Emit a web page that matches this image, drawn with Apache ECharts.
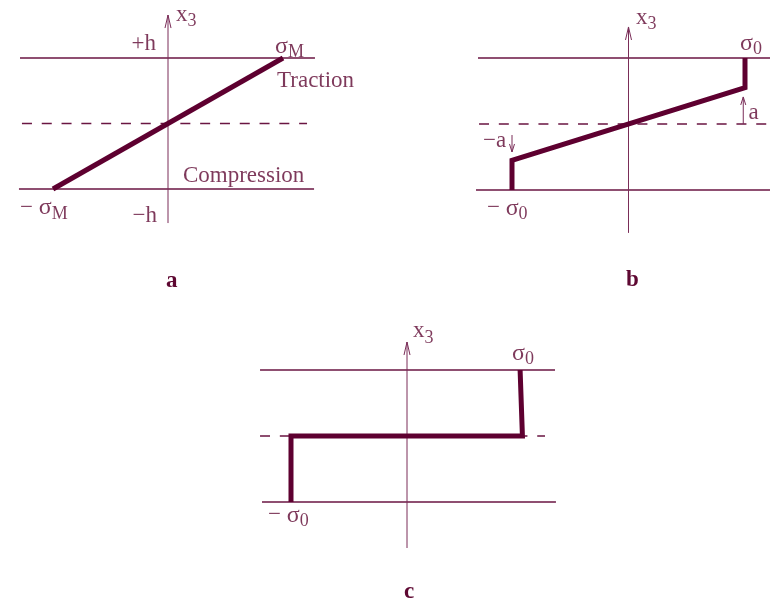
<!DOCTYPE html>
<html><head><meta charset="utf-8">
<script src="https://cdn.jsdelivr.net/npm/echarts@6/dist/echarts.min.js"></script>
<style>html,body{margin:0;padding:0;background:#fff}#c{width:770px;height:603px}</style>
</head><body><div id="c"></div>
<script>
// ---- data (dimensionless: x = sigma / sigma_max, y = x3 / h) ----
const profileA = [[-1, -1], [1, 1]];                       // linear: -σM .. σM
const profileB = [[-1, -1], [-1, -0.55], [1, 0.55], [1, 1]]; // elastic core ±a, plastic outer
const profileC = [[-1, -1], [-1, 0], [0.995, 0], [0.975, 1]]; // fully plastic
const levelTop = 1, levelMid = 0, levelBot = -1;             // +h, 0, -h
const extA = { top: [-1.287, 1.278], bot: [-1.296, 1.27], mid: [-1.27, 1.209], axis: [-1.52, 1.656] };
const extB = { top: [-1.292, 1.4], bot: [-1.309, 1.4], mid: [-1.283, 1.4], axis: [-1.65, 1.47] };
const extC = { top: [-1.267, 1.276], bot: [-1.25, 1.284], mid: [-1.267, 1.19], axis: [-1.697, 1.424] };
const arrowsB = [{ x: 0.985, from: 0, to: 0.41 }, { x: -1.0, from: -0.167, to: -0.424 }];
const labelsA = [
  { t: '{m|x}{s|3}', p: [0.07, 1.64], side: 'right' },
  { t: '{m|+h}', p: [-0.104, 1.2], side: 'left' },
  { t: '{g|σ}{s|M}', p: [0.93, 1.17], side: 'right' },
  { t: '{m|Traction}', p: [0.948, 0.64], side: 'right' },
  { t: '{m|Compression}', p: [0.13, -0.81], side: 'right' },
  { t: '{m|− }{g|σ}{s|M}', p: [-1.287, -1.3], side: 'right' },
  { t: '{m|−h}', p: [-0.096, -1.43], side: 'left' }
];
const labelsB = [
  { t: '{m|x}{s|3}', p: [0.064, 1.59], side: 'right' },
  { t: '{g|σ}{s|0}', p: [0.957, 1.21], side: 'right' },
  { t: '{m|− }{g|σ}{s|0}', p: [-1.215, -1.29], side: 'right' },
  { t: '{m|−a}', p: [-1.249, -0.27], side: 'right' },
  { t: '{m|a}', p: [1.03, 0.15], side: 'right' }
];
const labelsC = [
  { t: '{m|x}{s|3}', p: [0.052, 1.57], side: 'right' },
  { t: '{g|σ}{s|0}', p: [0.905, 1.24], side: 'right' },
  { t: '{m|− }{g|σ}{s|0}', p: [-1.198, -1.21], side: 'right' }
];
const panelNames = ['a', 'b', 'c'];

// ---- layout / style ----
const COL = { text: '#5e0832', thick: '#5e0030', thin: '#6a1542', axis: '#7a2d58' };
const FONT = 'Liberation Serif';
const panels = [
  { cx: 168, cy: 123.5, sx: 115, sy: 65.5, xr: [-1.4, 1.4], prof: profileA, ext: extA, labels: labelsA },
  { cx: 628.5, cy: 124, sx: 116.5, sy: 66, xr: [-1.4, 1.2], prof: profileB, ext: extB, labels: labelsB, arrows: arrowsB },
  { cx: 407, cy: 436, sx: 116, sy: 66, xr: [-1.4, 1.4], prof: profileC, ext: extC, labels: labelsC }
];
const YR = 1.8;
const rich = {
  m: { fontFamily: FONT, fontSize: 23, color: COL.text, verticalAlign: 'top', lineHeight: 25 },
  g: { fontFamily: FONT, fontSize: 24, color: COL.text, verticalAlign: 'top', lineHeight: 25 },
  s: { fontFamily: FONT, fontSize: 18, color: COL.text, verticalAlign: 'top', lineHeight: 20, padding: [9, 0, 0, 0] }
};

const grid = [], xAxis = [], yAxis = [], series = [];
function line(i, data, style, z) {
  series.push({ type: 'line', xAxisIndex: i, yAxisIndex: i, data, symbol: 'none', silent: true,
    clip: false, animation: false, z: z || 2, lineStyle: Object.assign({ cap: 'butt', join: 'miter' }, style) });
}
function chevron(i, p, x, tipY, dir, len, half) {
  const dx = half / p.sx, dy = len / p.sy * dir;
  line(i, [[x - dx, tipY - dy], [x, tipY], [x + dx, tipY - dy]], { color: COL.axis, width: 1 }, 3);
}
panels.forEach((p, i) => {
  grid.push({ left: p.cx + p.xr[0] * p.sx, top: p.cy - YR * p.sy, width: (p.xr[1] - p.xr[0]) * p.sx, height: 2 * YR * p.sy });
  xAxis.push({ type: 'value', gridIndex: i, min: p.xr[0], max: p.xr[1], show: false });
  yAxis.push({ type: 'value', gridIndex: i, min: -YR, max: YR, show: false });
  const e = p.ext;
  line(i, [[e.top[0], levelTop], [e.top[1], levelTop]], { color: COL.thin, width: 1.4 });
  line(i, [[e.bot[0], levelBot], [e.bot[1], levelBot]], { color: COL.thin, width: 1.4 });
  line(i, [[e.mid[0], levelMid], [e.mid[1], levelMid]], { color: COL.thin, width: 1.4, type: [10, 9.8] });
  line(i, [[0, e.axis[0]], [0, e.axis[1]]], { color: COL.axis, width: 1 });
  chevron(i, p, 0, e.axis[1], 1, 13, 3);
  line(i, p.prof, { color: COL.thick, width: 5 }, 5);
  (p.arrows || []).forEach(a => {
    line(i, [[a.x, a.from], [a.x, a.to]], { color: COL.axis, width: 1 }, 3);
    chevron(i, p, a.x, a.to, a.to > a.from ? 1 : -1, 8, 2.5);
  });
  series.push({ type: 'scatter', xAxisIndex: i, yAxisIndex: i, symbolSize: 0, silent: true, clip: false, animation: false,
    data: p.labels.map(l => ({ value: l.p, label: { show: true, position: l.side, distance: 0,
      formatter: l.t, rich } })) });
});

const title = [
  { text: panelNames[0], left: 166, top: 270 },
  { text: panelNames[1], left: 626, top: 269 },
  { text: panelNames[2], left: 404, top: 581 }
].map(t => Object.assign(t, { padding: 0, textStyle: { fontFamily: FONT, fontWeight: 'bold', fontSize: 23, color: COL.text } }));

const chart = echarts.init(document.getElementById('c'), null, { renderer: 'canvas' });
chart.setOption({ animation: false, backgroundColor: '#fff', title, grid, xAxis, yAxis, series });
</script></body></html>
